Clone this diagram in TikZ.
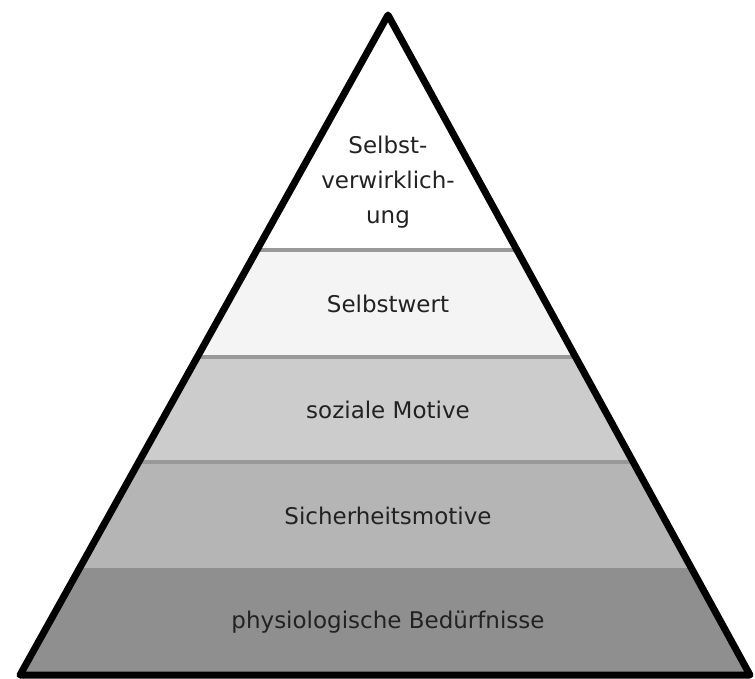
\documentclass[tikz,border=0pt]{standalone}
\usepackage{fontspec}
\setmainfont{DejaVu Sans}
\definecolor{LevelOne}{HTML}{8F8F8F}
\definecolor{LevelTwo}{HTML}{B5B5B5}
\definecolor{LevelThree}{HTML}{CCCCCC}
\definecolor{LevelFour}{HTML}{F4F4F4}
\definecolor{SepGray}{HTML}{999999}
\definecolor{TextGray}{HTML}{222222}

\begin{document}
\begin{tikzpicture}[
    x=1pt,y=-1pt,
    sep/.style={draw=SepGray,line width=4pt},
    label/.style={text=TextGray,font=\fontsize{23}{35}\selectfont,align=center},
    outline/.style={draw=black,line width=7pt,line join=round}
  ]
    \useasboundingbox (0,0) rectangle (755,679);
    \coordinate (apex) at (388,15);
    \coordinate (bl) at (20,675);
    \coordinate (br) at (750,675);

    \begin{scope}
      \clip (apex) -- (bl) -- (br) -- cycle;
      \fill[LevelFour]  (0,250) rectangle (755,357);
      \fill[LevelThree] (0,357) rectangle (755,462);
      \fill[LevelTwo]   (0,462) rectangle (755,568);
      \fill[LevelOne]   (0,568) rectangle (755,679);
      \draw[sep] (0,250) -- (755,250);
      \draw[sep] (0,357) -- (755,357);
      \draw[sep] (0,462) -- (755,462);
    \end{scope}

    \draw[outline] (apex) -- (bl) -- (br) -- cycle;

    \node[label] (top)   at (388,182) {Selbst-\\verwirklich-\\ung};
    \node[label] (self)  at (388,304) {Selbstwert};
    \node[label] (soc)   at (388,410) {soziale Motive};
    \node[label] (safe)  at (388,516) {Sicherheitsmotive};
    \node[label] (phys)  at (388,622) {physiologische Bedürfnisse};
  \end{tikzpicture}
\end{document}
